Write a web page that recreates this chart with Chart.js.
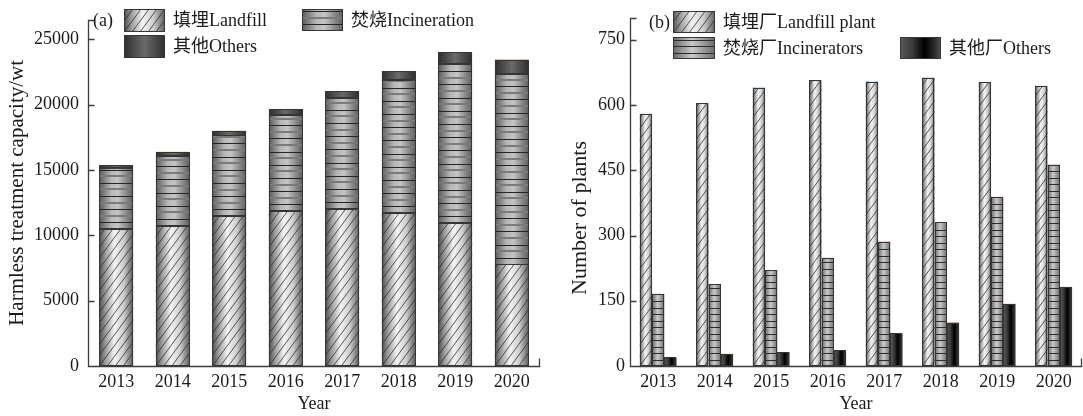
<!DOCTYPE html>
<html>
<head>
<meta charset="utf-8">
<script src="https://cdn.jsdelivr.net/npm/chart.js@4"></script>
<style>
  html, body { margin: 0; padding: 0; background: #fff; overflow: hidden; }
  #wrap { position: relative; width: 1083px; height: 416px; }
  canvas { position: absolute; top: 0; }
</style>
</head>
<body>
<div id="wrap">
  <canvas id="capacity" width="545" height="416" style="left:0"></canvas>
  <canvas id="plants" width="538" height="416" style="left:545px"></canvas>
</div>
<script>
// Municipal solid waste: harmless treatment capacity (10^4 t) and plant counts
const years = ['2013', '2014', '2015', '2016', '2017', '2018', '2019', '2020'];

const landfillCapacity     = [10493, 10744, 11483, 11866, 12038, 11706, 10948, 7772];
const incinerationCapacity = [4634, 5330, 6176, 7378, 8463, 10185, 12174, 14608];
const otherCapacity        = [267, 320, 354, 429, 533, 674, 891, 1073];
const capacityTicks        = [0, 5000, 10000, 15000, 20000, 25000];

const landfillPlants    = [580, 604, 640, 657, 654, 663, 652, 644];
const incineratorPlants = [166, 188, 220, 249, 286, 331, 389, 463];
const otherPlants       = [20, 28, 32, 36, 75, 100, 143, 182];
const plantTicks        = [0, 150, 300, 450, 600, 750];

const FONT = "'Liberation Serif', 'Times New Roman', 'Noto Sans CJK SC', serif";
const INK = '#1a1a1a';
const AXIS = '#3c3c3c';

// Fill styles for each kind of bar: a horizontal "cylinder" gradient plus an optional texture
const SKINS = {
  landfillA: { stops: [[0, '#4c4c4c'], [0.18, '#9a9a9a'], [0.45, '#f4f4f4'], [0.72, '#cdcdcd'], [1, '#5a5a5a']],
               hatch: { gap: 8, slope: 1.35, color: '#303030', width: 0.8 } },
  incinA:    { stops: [[0, '#5a5a5a'], [0.35, '#b6b6b6'], [0.55, '#c4c4c4'], [1, '#5c5c5c']],
               stripes: { gap: 6.6, dark: '#252525', light: '#7a7a7a' } },
  otherA:    { stops: [[0, '#2e2e2e'], [0.5, '#6a6a6a'], [1, '#2e2e2e']] },
  landfillB: { stops: [[0, '#555555'], [0.2, '#a4a4a4'], [0.45, '#f4f4f4'], [0.72, '#d0d0d0'], [1, '#606060']],
               hatch: { gap: 8, slope: 1.35, color: '#303030', width: 0.8 } },
  incinB:    { stops: [[0, '#686868'], [0.45, '#cacaca'], [1, '#6c6c6c']],
               stripes: { gap: 6.5, dark: '#2c2c2c' } },
  otherB:    { stops: [[0, '#5a5a5a'], [0.3, '#3a3a3a'], [0.6, '#000000'], [0.85, '#2c2c2c'], [1, '#555555']] }
};

function paintSkin(ctx, skinName, x, y, w, h) {
  if (w <= 0 || h <= 0.5) return;
  const s = SKINS[skinName];
  ctx.save();
  ctx.beginPath();
  ctx.rect(x, y, w, h);
  ctx.clip();
  const g = ctx.createLinearGradient(x, 0, x + w, 0);
  s.stops.forEach(([o, c]) => g.addColorStop(o, c));
  ctx.fillStyle = g;
  ctx.fillRect(x, y, w, h);
  if (s.hatch) {
    const { gap, slope, color, width } = s.hatch;
    const run = h / slope;
    ctx.beginPath();
    for (let sx = x - Math.ceil(run / gap) * gap; sx < x + w + gap; sx += gap) {
      ctx.moveTo(sx, y + h);
      ctx.lineTo(sx + run, y);
    }
    ctx.strokeStyle = color;
    ctx.lineWidth = width;
    ctx.stroke();
  }
  if (s.stripes) {
    const { gap, dark, light } = s.stripes;
    for (let j = 1; y + h - j * gap > y + 1; j++) {
      const yy = Math.round(y + h - j * gap);
      if (light && j % 2 === 0) {
        ctx.fillStyle = light;
        ctx.fillRect(x, yy - 1, w, 2);
      } else {
        ctx.fillStyle = dark;
        ctx.fillRect(x, yy, w, 1);
      }
    }
  }
  ctx.restore();
  ctx.save();
  ctx.strokeStyle = '#353535';
  ctx.lineWidth = 1;
  ctx.strokeRect(Math.round(x) + 0.5, Math.round(y) + 0.5, Math.round(w) - 1, Math.round(h) - 1);
  ctx.restore();
}

// Repaints every bar element the library laid out, using its own geometry
const barSkin = {
  id: 'barSkin',
  afterDatasetsDraw(chart) {
    const ctx = chart.ctx;
    chart.data.datasets.forEach((ds, i) => {
      const meta = chart.getDatasetMeta(i);
      if (meta.hidden) return;
      meta.data.forEach(el => {
        const p = el.getProps(['x', 'y', 'base', 'width'], true);
        const top = Math.min(p.y, p.base);
        paintSkin(ctx, ds.skin, p.x - p.width / 2, top, p.width, Math.abs(p.base - p.y));
      });
    });
  }
};

// Axis lines with inward ticks, a cap at the top of the value axis and an end tick on the category axis
const axisFrame = {
  id: 'axisFrame',
  afterDraw(chart) {
    const { ctx, chartArea: { left, right, top, bottom }, scales: { y } } = chart;
    const L = Math.round(left) + 0.5, B = Math.round(bottom) + 0.5, R = Math.round(right) - 0.5, T = Math.round(top) + 0.5;
    ctx.save();
    ctx.strokeStyle = AXIS;
    ctx.lineWidth = 1.3;
    ctx.beginPath();
    ctx.moveTo(L + 6, T);
    ctx.lineTo(L, T);
    ctx.lineTo(L, B);
    ctx.lineTo(R, B);
    ctx.lineTo(R, B - 8);
    y.ticks.forEach(t => {
      if (t.value === 0) return;
      const py = Math.round(y.getPixelForValue(t.value)) + 0.5;
      ctx.moveTo(L, py);
      ctx.lineTo(L + 6, py);
    });
    ctx.stroke();
    ctx.restore();
  }
};

// Legend swatches, panel tag and (optionally) a free-standing value-axis title
const panelLegend = {
  id: 'panelLegend',
  afterDraw(chart, args, opts) {
    const ctx = chart.ctx;
    ctx.save();
    ctx.font = '18px ' + FONT;
    ctx.fillStyle = INK;
    ctx.textBaseline = 'middle';
    ctx.textAlign = 'left';
    ctx.fillText(opts.tag.text, opts.tag.x, opts.tag.y);
    opts.items.forEach(it => {
      const ds = chart.data.datasets[it.dataset];
      paintSkin(ctx, ds.skin, it.box[0], it.box[1], it.box[2], it.box[3]);
      ctx.fillStyle = INK;
      ctx.fillText(ds.label, it.box[0] + it.box[2] + 8, it.box[1] + it.box[3] / 2 + 1);
    });
    if (opts.axisTitle) {
      const t = opts.axisTitle;
      ctx.translate(t.x, t.y);
      ctx.rotate(-Math.PI / 2);
      ctx.font = t.size + 'px ' + FONT;
      ctx.textAlign = 'center';
      ctx.fillText(t.text, 0, 0);
    }
    ctx.restore();
  }
};

function baseOptions(cfg) {
  return {
    responsive: false,
    animation: false,
    devicePixelRatio: 1,
    layout: { padding: { top: 18, right: cfg.padRight, left: 0, bottom: 0 } },
    plugins: {
      legend: { display: false },
      tooltip: { enabled: false },
      panelLegend: cfg.legend
    },
    datasets: { bar: { borderWidth: 0, backgroundColor: '#9a9a9a',
                       barPercentage: cfg.barPct, categoryPercentage: cfg.catPct } },
    scales: {
      x: {
        stacked: cfg.stacked,
        grid: { display: false, drawTicks: false },
        border: { display: false },
        ticks: { color: INK, font: { family: FONT, size: 18 }, padding: 5, maxRotation: 0 },
        title: { display: true, text: 'Year', color: INK, font: { family: FONT, size: 18 },
                 padding: { top: 0, bottom: 1 } },
        afterFit(s) { s.height = 50; }
      },
      y: {
        stacked: cfg.stacked,
        min: 0,
        max: cfg.max,
        grid: { display: false, drawTicks: false },
        border: { display: false },
        ticks: { color: INK, font: { family: FONT, size: 18 }, padding: cfg.tickPad,
                 callback: v => String(v) },
        afterBuildTicks(s) { s.ticks = cfg.ticks.map(v => ({ value: v })); },
        title: { display: !!cfg.yTitle, text: cfg.yTitle || '', color: INK, font: { family: FONT, size: 21 },
                 padding: { top: cfg.titlePad, bottom: 0 } },
        afterFit(s) { s.width = cfg.axisWidth; }
      }
    }
  };
}

new Chart(document.getElementById('capacity'), {
  type: 'bar',
  data: {
    labels: years,
    datasets: [
      { label: '填埋Landfill', data: landfillCapacity, skin: 'landfillA' },
      { label: '焚烧Incineration', data: incinerationCapacity, skin: 'incinA' },
      { label: '其他Others', data: otherCapacity, skin: 'otherA' }
    ]
  },
  options: baseOptions({
    stacked: true, max: 26500, ticks: capacityTicks, padRight: 5,
    barPct: 0.6, catPct: 1, tickPad: 9, axisWidth: 88, titlePad: 5,
    yTitle: 'Harmless treatment capacity/wt',
    legend: {
      tag: { text: '(a)', x: 93, y: 21 },
      items: [
        { dataset: 0, box: [124, 9, 41, 23] },
        { dataset: 1, box: [302, 9, 41, 22] },
        { dataset: 2, box: [124, 35, 41, 23] }
      ]
    }
  }),
  plugins: [barSkin, axisFrame, panelLegend]
});

new Chart(document.getElementById('plants'), {
  type: 'bar',
  data: {
    labels: years,
    datasets: [
      { label: '填埋厂Landfill plant', data: landfillPlants, skin: 'landfillB' },
      { label: '焚烧厂Incinerators', data: incineratorPlants, skin: 'incinB' },
      { label: '其他厂Others', data: otherPlants, skin: 'otherB' }
    ]
  },
  options: baseOptions({
    stacked: false, max: 800, ticks: plantTicks, padRight: 1,
    barPct: 1, catPct: 0.655, tickPad: 5, axisWidth: 85, titlePad: 22,
    yTitle: null,
    legend: {
      tag: { text: '(b)', x: 104, y: 23 },
      axisTitle: { text: 'Number of plants', x: 35, y: 218, size: 22 },
      items: [
        { dataset: 0, box: [128, 11, 42, 22] },
        { dataset: 1, box: [128, 37, 42, 22] },
        { dataset: 2, box: [355, 37, 41, 22] }
      ]
    }
  }),
  plugins: [barSkin, axisFrame, panelLegend]
});
</script>
</body>
</html>
